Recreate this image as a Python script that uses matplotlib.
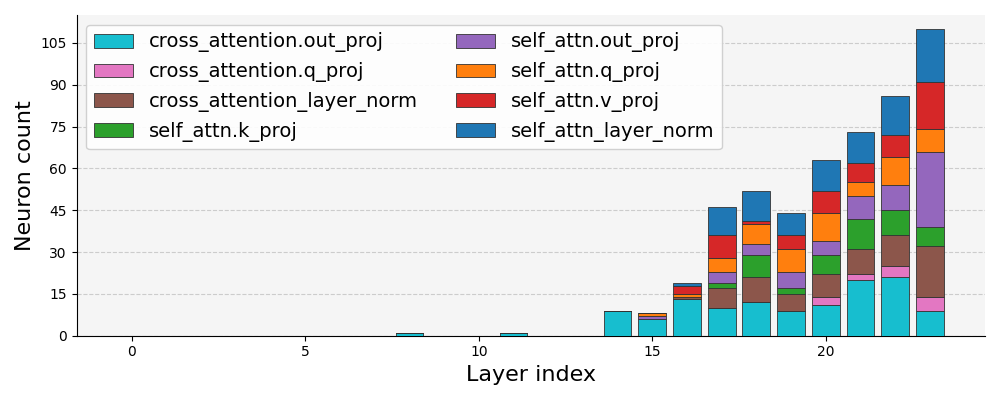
import numpy as np
import matplotlib
matplotlib.use("Agg")
import matplotlib.pyplot as plt

# neuron counts per layer, one list per module
layers = list(range(24))
modules = ["cross_attention.out_proj", "cross_attention.q_proj",
           "cross_attention_layer_norm", "self_attn.k_proj",
           "self_attn.out_proj", "self_attn.q_proj",
           "self_attn.v_proj", "self_attn_layer_norm"]
colors = ["#17becf", "#e377c2", "#8c564b", "#2ca02c",
          "#9467bd", "#ff7f0e", "#d62728", "#1f77b4"]

cross_out = [0, 0, 0, 0, 0, 0, 0, 0, 1, 0, 0, 1, 0, 0, 9, 6, 13, 10, 12, 9, 11, 20, 21, 9]
cross_q = [0, 0, 0, 0, 0, 0, 0, 0, 0, 0, 0, 0, 0, 0, 0, 0, 0, 0, 0, 0, 3, 2, 4, 5]
cross_ln = [0, 0, 0, 0, 0, 0, 0, 0, 0, 0, 0, 0, 0, 0, 0, 0, 1, 7, 9, 6, 8, 9, 11, 18]
self_k = [0, 0, 0, 0, 0, 0, 0, 0, 0, 0, 0, 0, 0, 0, 0, 0, 0, 2, 8, 2, 7, 11, 9, 7]
self_out = [0, 0, 0, 0, 0, 0, 0, 0, 0, 0, 0, 0, 0, 0, 0, 1, 0, 4, 4, 6, 5, 8, 9, 27]
self_q = [0, 0, 0, 0, 0, 0, 0, 0, 0, 0, 0, 0, 0, 0, 0, 1, 1, 5, 7, 8, 10, 5, 10, 8]
self_v = [0, 0, 0, 0, 0, 0, 0, 0, 0, 0, 0, 0, 0, 0, 0, 0, 3, 8, 1, 5, 8, 7, 8, 17]
self_ln = [0, 0, 0, 0, 0, 0, 0, 0, 0, 0, 0, 0, 0, 0, 0, 0, 1, 10, 11, 8, 11, 11, 14, 19]

series = [cross_out, cross_q, cross_ln, self_k, self_out, self_q, self_v, self_ln]

fig, ax = plt.subplots(figsize=(10, 4), dpi=100)
ax.set_facecolor("#f5f5f5")

bottom = np.zeros(len(layers))
for name, vals, c in zip(modules, series, colors):
    vals = np.array(vals)
    ax.bar(layers, vals, bottom=bottom, color=c, edgecolor="#333333",
           linewidth=0.6, label=name, zorder=3)
    bottom += vals

ax.set_ylim(0, 115)
ax.set_yticks(np.arange(0, 106, 15))
ax.yaxis.grid(True, linestyle="--", color="#cccccc", linewidth=0.8, zorder=0)
ax.spines["top"].set_visible(False)
ax.spines["right"].set_visible(False)
ax.set_xlabel("Layer index", fontsize=16)
ax.set_ylabel("Neuron count", fontsize=16)
ax.legend(ncol=2, fontsize=14, loc="upper left", framealpha=0.9)

fig.tight_layout()
fig.savefig("out.png", dpi=100)
